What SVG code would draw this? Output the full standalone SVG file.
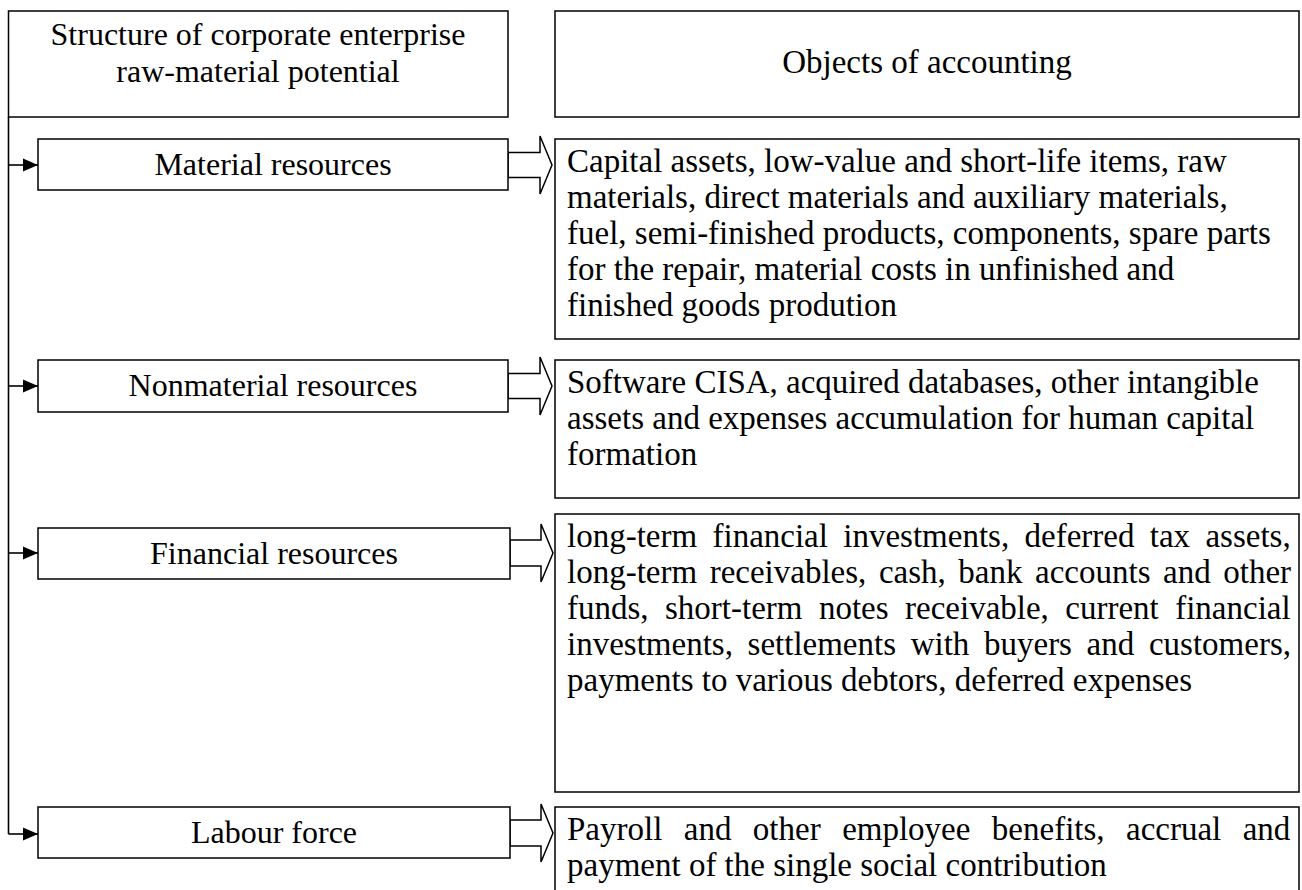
<svg xmlns="http://www.w3.org/2000/svg" width="1302" height="890" viewBox="0 0 1302 890">
<defs>
<marker id="ah" markerWidth="16" markerHeight="14" refX="15" refY="7" orient="auto" markerUnits="userSpaceOnUse">
<path d="M0,0.5 L15,7 L0,13.5 Z" fill="#000"/>
</marker>
<style>
.box{fill:#fff;stroke:#000;stroke-width:1.5}
.t{font-family:"Liberation Serif","Times New Roman",serif;font-size:33px;fill:#000}
.s{font-size:32px}
.c{text-anchor:middle}
.ln{fill:none;stroke:#000;stroke-width:1.6}
.ha{fill:#fff;stroke:#000;stroke-width:1.5;stroke-linejoin:miter}
</style>
</defs>
<rect width="1302" height="890" fill="#fff"/>

<g id="connectors">
<path class="ln" d="M8.5,117 V834"/>
<path class="ln" d="M8.5,165 H38" marker-end="url(#ah)"/>
<path class="ln" d="M8.5,386 H38" marker-end="url(#ah)"/>
<path class="ln" d="M8.5,553 H38" marker-end="url(#ah)"/>
<path class="ln" d="M8.5,834 H38" marker-end="url(#ah)"/>
<polygon class="ha" points="508,152.5 540,152.5 540,136 552,165 540,194 540,177.5 508,177.5"/>
<polygon class="ha" points="508,373.5 540,373.5 540,357 552,386 540,415 540,398.5 508,398.5"/>
<polygon class="ha" points="510,540 541,540 541,524 553,553 541,582 541,566 510,566"/>
<polygon class="ha" points="510,820 541,820 541,804 553,833 541,862 541,846 510,846"/>
</g>

<g id="structure">
<rect class="box" x="8.5" y="11" width="499.5" height="106"/>
<text class="t s c" x="258" y="45">Structure of corporate enterprise</text>
<text class="t s c" x="258" y="82">raw-material potential</text>
</g>

<g id="objects">
<rect class="box" x="555" y="11" width="744" height="106"/>
<text class="t c" x="927" y="73">Objects of accounting</text>
</g>

<g id="material">
<rect class="box" x="38" y="139" width="470" height="51"/>
<text class="t s c" x="273" y="175">Material resources</text>
</g>

<g id="nonmaterial">
<rect class="box" x="38" y="360" width="470" height="52"/>
<text class="t s c" x="273" y="396">Nonmaterial resources</text>
</g>

<g id="financial">
<rect class="box" x="38" y="528" width="472" height="51"/>
<text class="t s c" x="274" y="564">Financial resources</text>
</g>

<g id="labour">
<rect class="box" x="38" y="807" width="472" height="51"/>
<text class="t s c" x="274" y="843">Labour force</text>
</g>

<g id="material-objects">
<rect class="box" x="555" y="139" width="744" height="200"/>
<text class="t" x="567" y="172">Capital assets, low-value and short-life items, raw</text>
<text class="t" x="567" y="208">materials, direct materials and auxiliary materials,</text>
<text class="t" x="567" y="244">fuel, semi-finished products, components, spare parts</text>
<text class="t" x="567" y="280">for the repair, material costs in unfinished and</text>
<text class="t" x="567" y="316">finished goods prodution</text>
</g>

<g id="nonmaterial-objects">
<rect class="box" x="555" y="360" width="744" height="138"/>
<text class="t" x="567" y="393">Software CISA, acquired databases, other intangible</text>
<text class="t" x="567" y="429">assets and expenses accumulation for human capital</text>
<text class="t" x="567" y="465">formation</text>
</g>

<g id="financial-objects">
<rect class="box" x="555" y="514" width="744" height="278"/>
<text class="t" x="567" y="547" word-spacing="7.1">long-term financial investments, deferred tax assets,</text>
<text class="t" x="567" y="583" word-spacing="4.3">long-term receivables, cash, bank accounts and other</text>
<text class="t" x="567" y="619" word-spacing="8.2">funds, short-term notes receivable, current financial</text>
<text class="t" x="567" y="655" word-spacing="6.4">investments, settlements with buyers and customers,</text>
<text class="t" x="567" y="691">payments to various debtors, deferred expenses</text>
</g>

<g id="labour-objects">
<rect class="box" x="555" y="807" width="744" height="90"/>
<text class="t" x="567" y="840" word-spacing="13.2">Payroll and other employee benefits, accrual and</text>
<text class="t" x="567" y="876">payment of the single social contribution</text>
</g>
</svg>
